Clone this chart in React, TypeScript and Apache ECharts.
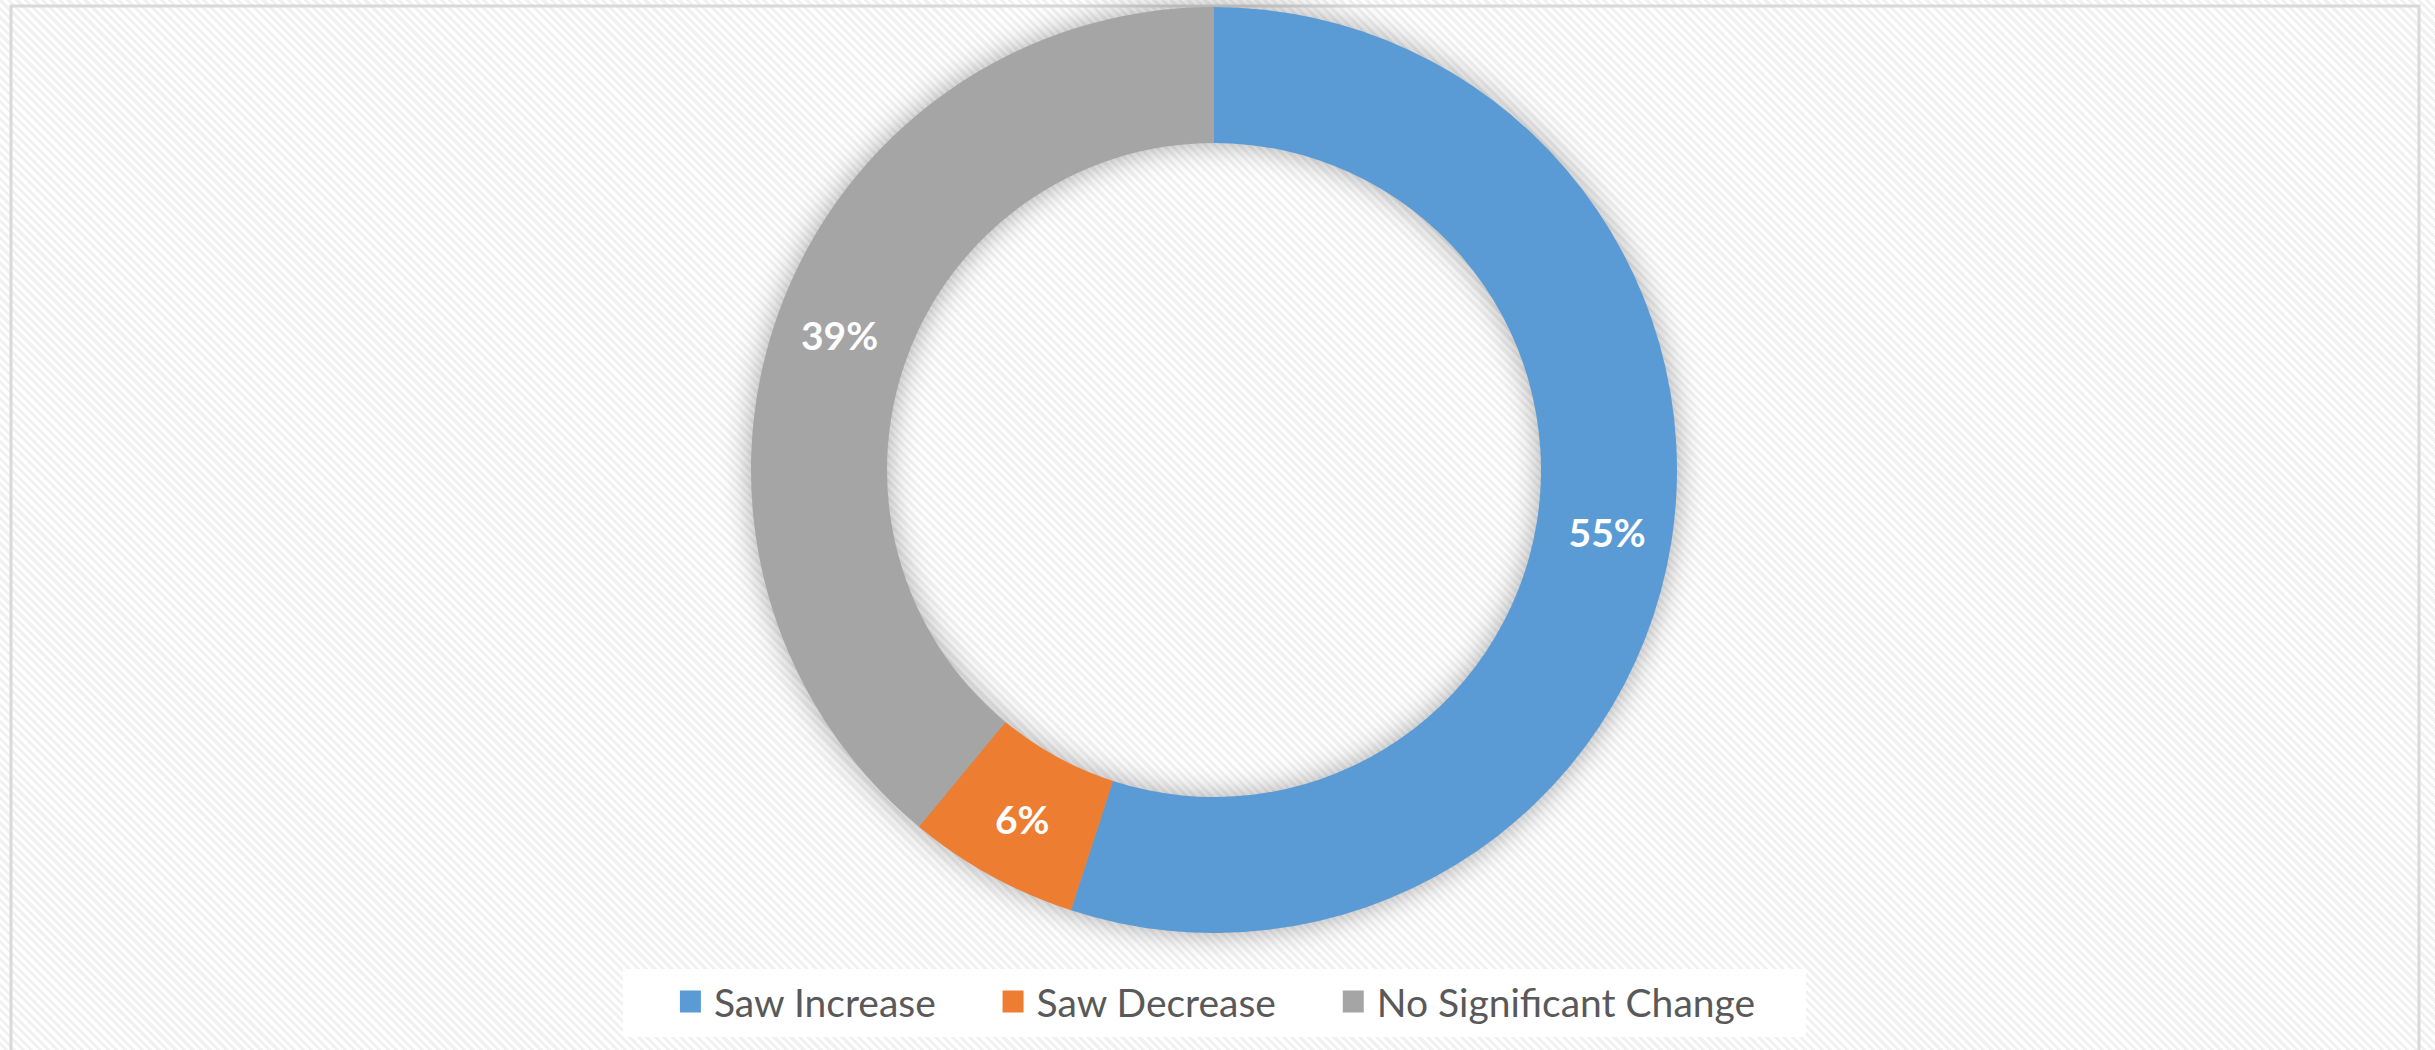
import React, { useEffect, useRef } from "react";
import * as echarts from "echarts";

const categories = ["Saw Increase", "Saw Decrease", "No Significant Change"];
const values = [55, 6, 39];
const colors = ["#5B9BD5", "#ED7D31", "#A5A5A5"];

const CX = 1214;
const CY = 470;
const R_OUT = 463;
const R_IN = 327;

export default function App() {
  const ref = useRef<HTMLDivElement>(null);
  useEffect(() => {
    document.body.style.margin = "0";
    const chart = echarts.init(ref.current!, null, { renderer: "svg" });
    chart.setOption({
      animation: false,
      backgroundColor: "transparent",
      graphic: [
        {
          type: "rect",
          z: 0,
          shape: { x: 11, y: 6, width: 2408, height: 1100 },
          style: { fill: "none", stroke: "#d9d9d9", lineWidth: 3 },
        },
        {
          type: "ring",
          z: 1,
          silent: true,
          shape: { cx: CX, cy: CY, r: R_OUT - 1, r0: R_IN + 1 },
          style: {
            fill: "#a5a5a5",
            shadowBlur: 30,
            shadowColor: "rgba(0,0,0,0.35)",
          },
        },
        {
          type: "rect",
          z: 1,
          shape: { x: 623, y: 969, width: 1183, height: 68 },
          style: { fill: "#ffffff" },
        },
      ],
      legend: {
        data: categories,
        left: "center",
        top: 982,
        itemWidth: 21,
        itemHeight: 22,
        itemGap: 66,
        icon: "rect",
        padding: 0,
        textStyle: {
          fontFamily: "Lato",
          fontSize: 39,
          color: "#595959",
          padding: [0, 0, 0, 8],
        },
      },
      series: [
        {
          type: "pie",
          z: 3,
          center: [CX, CY],
          radius: [R_IN, R_OUT],
          startAngle: 90,
          clockwise: true,
          avoidLabelOverlap: false,
          itemStyle: { borderWidth: 0 },
          label: {
            show: true,
            position: "inside",
            formatter: (p: any) => Math.round(p.percent) + "%",
            color: "#ffffff",
            fontFamily: "Lato",
            fontWeight: "bold",
            fontSize: 39,
          },
          labelLine: { show: false },
          emphasis: { disabled: true },
          data: categories.map((name, i) => ({
            name,
            value: values[i],
            itemStyle: { color: colors[i] },
          })),
        },
      ],
    });
    return () => chart.dispose();
  }, []);
  return (
    <div
      ref={ref}
      style={{
        width: 2435,
        height: 1050,
        background:
          "repeating-linear-gradient(45deg, #ffffff 0px, #ffffff 3px, #f1f1f1 3px, #f1f1f1 6px)",
      }}
    />
  );
}
